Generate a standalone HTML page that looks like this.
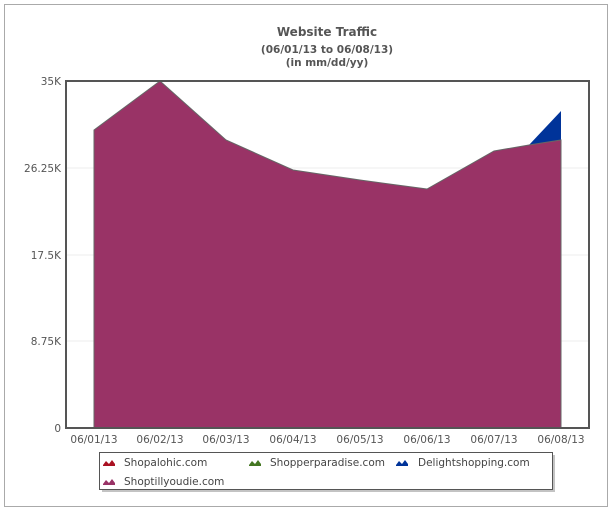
<!DOCTYPE html>
<html><head><style>
body{margin:0;background:#fff;font-family:"DejaVu Sans",sans-serif;}
</style></head><body>
<svg width="613" height="511" xmlns="http://www.w3.org/2000/svg" font-family="DejaVu Sans, sans-serif">
<rect x="4.5" y="4.5" width="603" height="502" fill="#fff" stroke="#aaa"/>
<text x="327" y="36" font-size="12" font-weight="bold" fill="#555" text-anchor="middle">Website Traffic</text>
<text x="327" y="53" font-size="10.5" font-weight="bold" fill="#555" text-anchor="middle">(06/01/13 to 06/08/13)</text>
<text x="327" y="66" font-size="10.5" font-weight="bold" fill="#555" text-anchor="middle">(in mm/dd/yy)</text>
<g stroke="#eee">
<line x1="66" y1="168" x2="589" y2="168"/><line x1="66" y1="255" x2="589" y2="255"/><line x1="66" y1="341" x2="589" y2="341"/>
</g>
<polygon points="94,130 160,81 226,140 293,170 360,180 427,189 494,151 529,145 561,111 561,428 94,428" fill="#003399"/>
<polygon points="94,130 160,81 226,140 293,170 360,180 427,189 494,151 529,145 561,140 561,428 94,428" fill="#993366" stroke="#666" stroke-width="1"/>
<rect x="66" y="81" width="523" height="347" fill="none" stroke="#555" stroke-width="2"/>
<g font-size="10.5" fill="#555" text-anchor="end">
<text x="61" y="85">35K</text><text x="61" y="172">26.25K</text><text x="61" y="259">17.5K</text><text x="61" y="345">8.75K</text><text x="61" y="432">0</text>
</g>
<g font-size="10.5" fill="#555" text-anchor="middle">
<text x="94" y="443">06/01/13</text><text x="160" y="443">06/02/13</text><text x="226" y="443">06/03/13</text><text x="293" y="443">06/04/13</text><text x="360" y="443">06/05/13</text><text x="427" y="443">06/06/13</text><text x="494" y="443">06/07/13</text><text x="561" y="443">06/08/13</text>
</g>
<rect x="102" y="455" width="453" height="37" fill="#888" opacity="0.5"/>
<rect x="99.5" y="452.5" width="453" height="37" fill="#fff" stroke="#555"/>
<g font-size="10.5" fill="#444">
<polygon points="103,465 106,461 109,464 112,460 115,464 115,466 103,466" fill="#aa1122"/>
<text x="124" y="466">Shopalohic.com</text>
<polygon points="249,465 252,461 255,464 258,460 261,464 261,466 249,466" fill="#447722"/>
<text x="270" y="466">Shopperparadise.com</text>
<polygon points="396,465 399,461 402,464 405,460 408,464 408,466 396,466" fill="#003399"/>
<text x="418" y="466">Delightshopping.com</text>
<polygon points="103,484 106,480 109,483 112,479 115,483 115,485 103,485" fill="#993366"/>
<text x="124" y="485">Shoptillyoudie.com</text>
</g>
</svg>
</body></html>
